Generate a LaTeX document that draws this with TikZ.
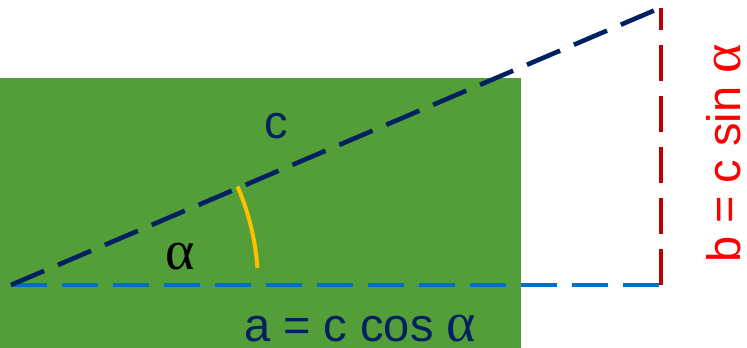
\documentclass[tikz,border=0pt]{standalone}
\usepackage{fontspec}
\setmainfont{Liberation Sans}
\newfontfamily\grk{Liberation Serif}
\newcommand{\alfa}{{\grk\fontsize{56}{56}\selectfont α}}
\definecolor{bggreen}{RGB}{84,158,58}
\definecolor{navy}{RGB}{0,32,96}
\definecolor{lblue}{RGB}{0,112,192}
\definecolor{dred}{RGB}{192,0,0}
\definecolor{amber}{RGB}{255,192,0}
\begin{document}
\begin{tikzpicture}[x=1pt,y=1pt,
  dashline/.style={dash pattern=on 36pt off 15pt},
  lbl/.style={inner sep=0pt,font=\fontsize{47}{50}\selectfont}]
\useasboundingbox (0,0) rectangle (747,348);
\fill[bggreen] (0,0) rectangle (521,270);
\coordinate (A) at (11,63);
\coordinate (B) at (660,340);
\coordinate (Bt) at (661,340);
\coordinate (C) at (661,63);
\coordinate (Ce) at (663,63);
\draw[lblue,line width=4.3pt,dashline] (A) -- (Ce);
\draw[dred,line width=4.6pt,dashline] (C) -- (Bt);
\draw[navy,line width=4.6pt,dashline] (A) -- (B);
\draw[amber,line width=4pt] ([shift={(4:247)}]A) arc[start angle=4,end angle=23.5,radius=247];
\node[lbl,navy,anchor=base] (lc) at (276,209.5) {c};
\node[lbl,black,anchor=base] (lal) at (180.5,78) {\alfa};
\node[lbl,navy,anchor=base west] (la) at (244,6.5) {a = c cos \alfa};
\node[lbl,red,anchor=base west,rotate=90] (lb) at (740,85) {b = c sin \alfa};
\end{tikzpicture}
\end{document}
